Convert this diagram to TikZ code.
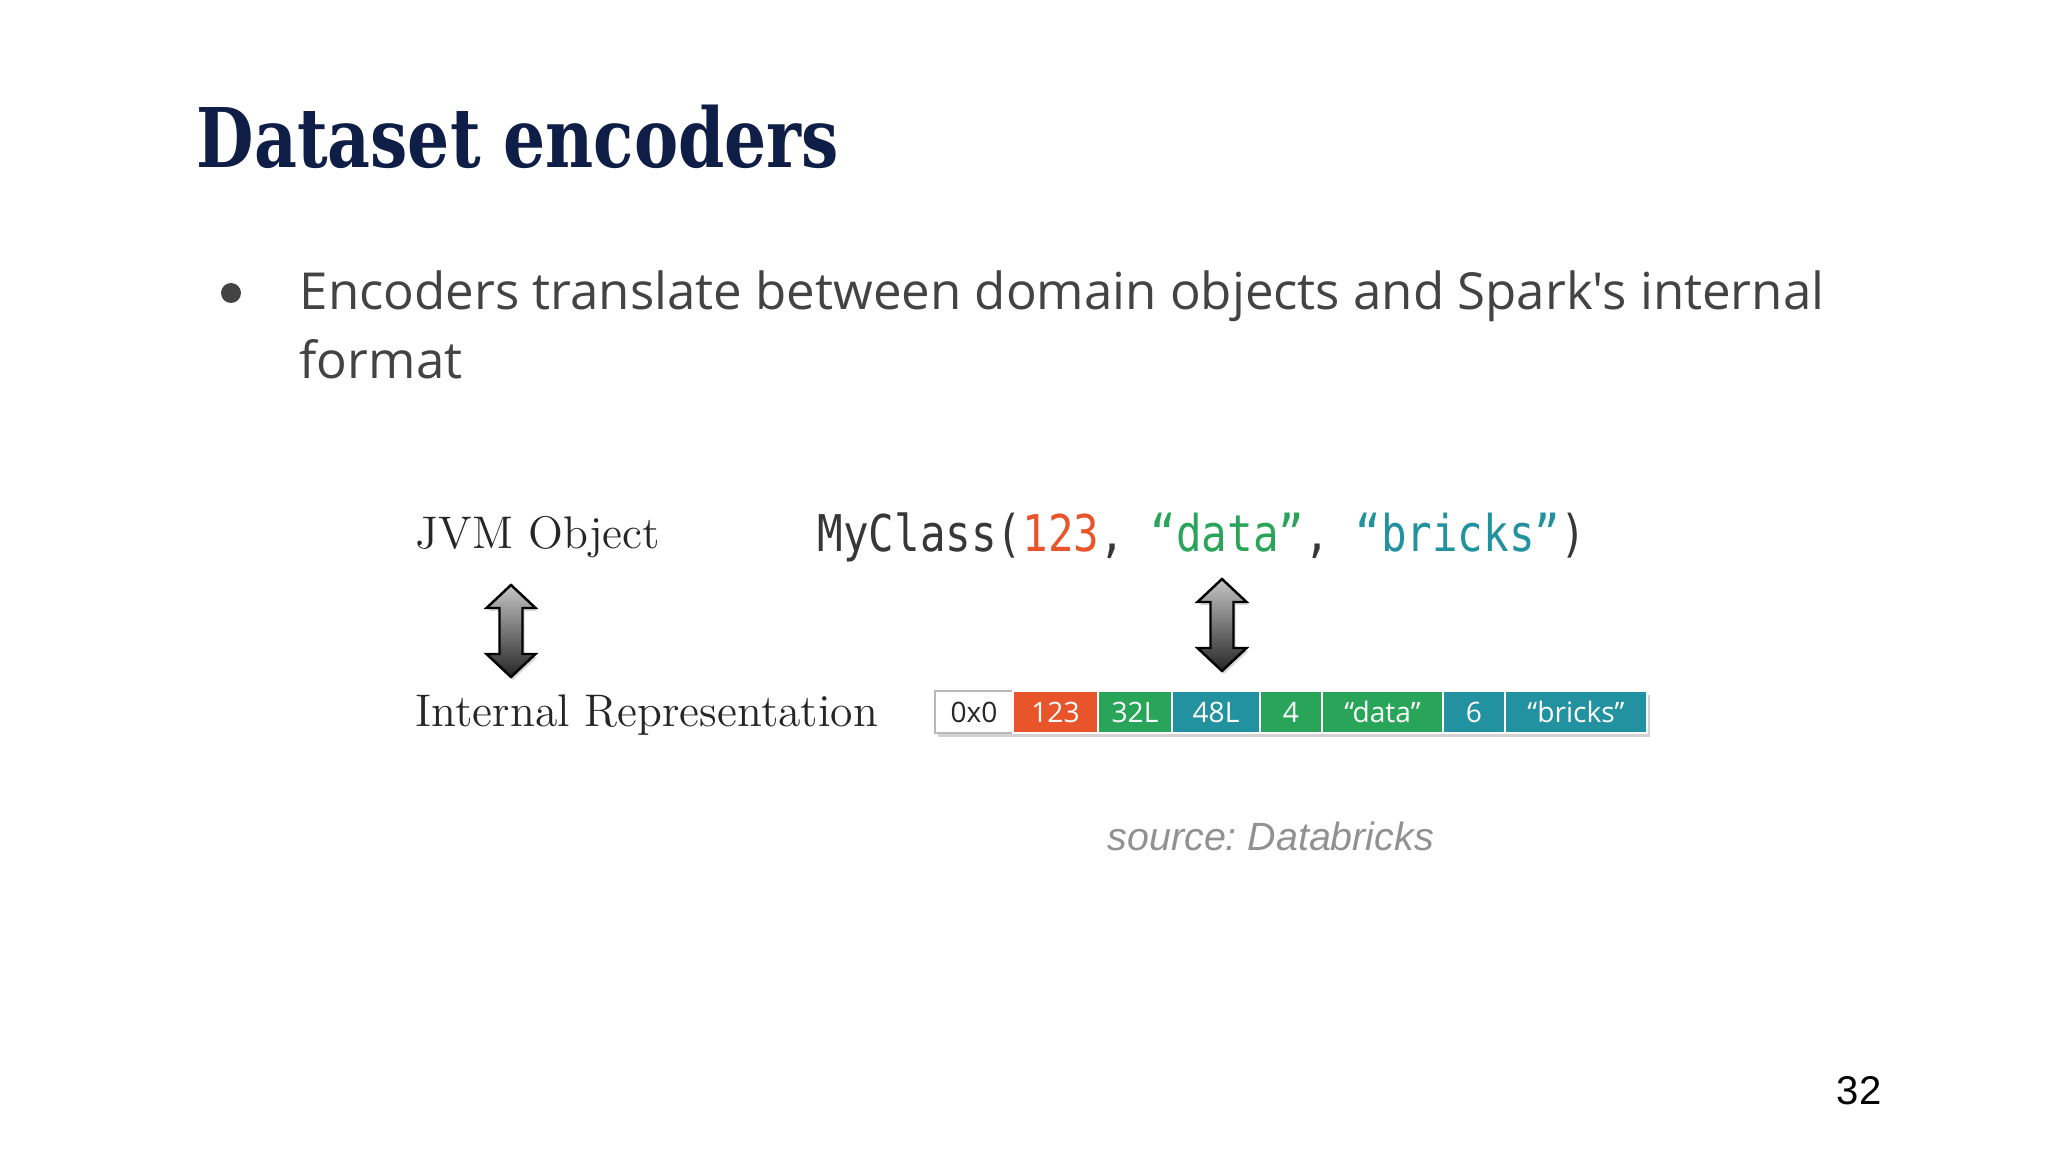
\documentclass[tikz,border=0pt]{standalone}
\usepackage{fontspec}
\usepackage{xcolor}
\usepackage{tikz}
\usetikzlibrary{positioning,calc}
\newfontfamily\headfont[FakeStretch=0.805]{DejaVu Serif Bold}
\newfontfamily\bodyfont{Open Sans}
\newfontfamily\monofont[FakeStretch=0.84]{DejaVu Sans Mono}
\newfontfamily\arialfont{Liberation Sans}
\definecolor{navy}{RGB}{15,30,70}
\definecolor{ink}{RGB}{67,67,67}
\definecolor{codegray}{RGB}{55,55,55}
\definecolor{brick}{RGB}{232,85,42}
\definecolor{leaf}{RGB}{40,165,88}
\definecolor{sea}{RGB}{34,145,160}
\definecolor{note}{RGB}{145,145,145}
\newlength\pxu
\setlength\pxu{0.01cm}
\frenchspacing
\tikzset{
    heading/.style={anchor=base west,inner sep=0pt,text=navy,font=\headfont\fontsize{23.4}{28}\selectfont},
    bul/.style={anchor=base west,inner sep=0pt,text=ink,font=\bodyfont\fontsize{14.5}{19.6}\selectfont},
    serif/.style={anchor=base west,inner sep=0pt,text=black!85,font=\rmfamily\fontsize{13}{15}\selectfont},
    mono/.style={anchor=base west,inner sep=0pt,text=codegray,font=\monofont\fontsize{14.4}{17}\selectfont},
    cellbox/.style={rectangle,draw=white,line width=0.5pt,minimum height=42\pxu,inner sep=0pt,outer sep=0pt,text=white,font=\bodyfont\fontsize{8}{9.6}\selectfont},
    dbl/.style={draw=black,line width=0.7pt,top color=gray!45,bottom color=black!85},
    dblshadow/.style={fill=gray!30},
    note/.style={anchor=base west,inner sep=0pt,text=note,font=\arialfont\itshape\fontsize{11.2}{13}\selectfont},
}
% double headed block arrow round a centre coordinate
\newcommand{\twoway}[2]{%
  \path[#2,shift={(#1)}] (0,-46) -- (24.5,-23) -- (11.5,-23) -- (11.5,23) -- (24.5,23)
    -- (0,46) -- (-24.5,23) -- (-11.5,23) -- (-11.5,-23) -- (-24.5,-23) -- cycle;}

\begin{document}
\begin{tikzpicture}[x=0.01cm,y=-0.01cm]
\useasboundingbox (0,0) rectangle (2048,1152);
\fill[white] (0,0) rectangle (2048,1152);
% title and bullet
\node[heading] (head) at (196,168) {Dataset encoders};
\node[circle,fill=ink,minimum size=20\pxu,inner sep=0pt] (dot) at (231,293) {};
\node[bul] (line1) at (299,310) {Encoders translate between domain objects and Spark's internal};
\node[bul] (line2) at (299,379) {format};
% left column
\node[serif] (jvm) at (415,548) {JVM Object};
\node[serif] (irep) at (415,726) {Internal Representation};
\coordinate (ua) at (511,631);
\coordinate (ub) at (1222,625);
\twoway{$(ua)+(2,3)$}{dblshadow}
\twoway{ua}{dbl}
% object
\node[mono] (obj) at (817,552) {MyClass(\textcolor{brick}{123}, \textcolor{leaf}{“data”}, \textcolor{sea}{“bricks”})};
\twoway{$(ub)+(2,3)$}{dblshadow}
\twoway{ub}{dbl}
% binary row
\fill[gray!35] (938,695) rectangle (1650,737);
\node[cellbox,fill=white,draw=gray!55,text=black!85,minimum width=78\pxu,anchor=west] (c0) at (935,712) {0x0};
\node[cellbox,fill=brick,minimum width=85\pxu,right=0pt of c0] (c1) {123};
\node[cellbox,fill=leaf,minimum width=74\pxu,right=0pt of c1] (c2) {32L};
\node[cellbox,fill=sea,minimum width=88\pxu,right=0pt of c2] (c3) {48L};
\node[cellbox,fill=leaf,minimum width=62\pxu,right=0pt of c3] (c4) {4};
\node[cellbox,fill=leaf,minimum width=121\pxu,right=0pt of c4] (c5) {“data”};
\node[cellbox,fill=sea,minimum width=62\pxu,right=0pt of c5] (c6) {6};
\node[cellbox,fill=sea,minimum width=142\pxu,right=0pt of c6] (c7) {“bricks”};
% footer
\node[note] (src) at (1107,850) {source: Databricks};
\node[anchor=base east,inner sep=0pt,font=\arialfont\fontsize{11.4}{13}\selectfont] (page) at (1882,1104) {32};
\end{tikzpicture}
\end{document}
